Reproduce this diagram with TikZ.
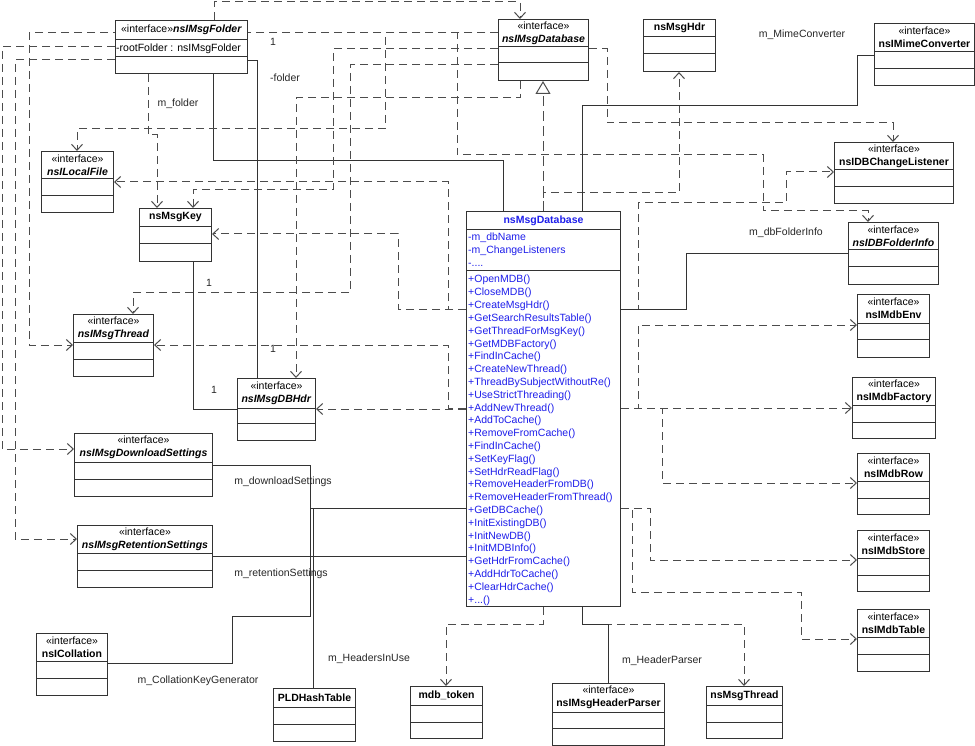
\documentclass[tikz,border=0pt]{standalone}
\usepackage{fontspec}
\setmainfont{Liberation Sans}
\usepackage{tikz}
\usetikzlibrary{arrows.meta}
\usetikzlibrary{backgrounds}

\definecolor{dbblue}{RGB}{30,30,235}

% class box: name, x, y, width, height, first separator, second separator, header
\newcommand{\umlclass}[8]{%
  \node[umlrect,anchor=north west,minimum width=#4pt,minimum height=#5pt] (#1) at (#2,#3) {};
  \draw[umlsep] ([yshift=-#6pt]#1.north west) -- ([yshift=-#6pt]#1.north east);
  \draw[umlsep] ([yshift=-#7pt]#1.north west) -- ([yshift=-#7pt]#1.north east);
  \node[umltext] (#1-head) at ([yshift=-#6pt/2]#1.north) {#8};
}

\begin{document}
\begin{tikzpicture}
    [
    x=1pt,y=-1pt,
    umlrect/.style={draw=black!80,fill=white,line width=1pt,inner sep=0pt},
    umlsep/.style={draw=black!80,line width=1pt},
    umltext/.style={inner sep=0pt,align=center,font=\fontsize{10.5}{12.8}\selectfont},
    member/.style={inner sep=0pt,anchor=base west,text=dbblue,font=\fontsize{10.5}{12.8}\selectfont},
    lbl/.style={inner sep=0pt,text=black!85,font=\fontsize{10.5}{12.8}\selectfont},
    dep/.style={draw=black!70,line width=1pt,dash pattern=on 8pt off 5pt,-{Straight Barb[length=6pt,width=11pt]}},
    assoc/.style={draw=black!80,line width=0.8pt},
    realize/.style={draw=black!70,line width=1pt,dash pattern=on 10pt off 5pt,-{Triangle[open,length=13pt,width=15pt]}},
    ]
    \useasboundingbox (0,0) rectangle (975,746);

    % classes
    \umlclass{folder}{115}{20}{132}{53}{20}{37}{«interface»\textbf{\textit{nsIMsgFolder}}}
    \node[umltext,anchor=west] (folder-attr) at ([xshift=1pt,yshift=-28.5pt]folder.north west) {-rootFolder : nsIMsgFolder};
    \umlclass{idb}{498}{19}{90}{61}{28}{44}{«interface»\\\textbf{\textit{nsIMsgDatabase}}}
    \umlclass{hdr}{643}{19}{72}{52}{18}{35}{\textbf{nsMsgHdr}}
    \umlclass{mime}{874}{23}{100}{62}{29}{46}{«interface»\\\textbf{nsIMimeConverter}}
    \umlclass{listener}{834}{142}{119}{61}{28}{45}{«interface»\\\textbf{nsIDBChangeListener}}
    \umlclass{folderinfo}{848}{222}{90}{62}{28}{45}{«interface»\\\textbf{\textit{nsIDBFolderInfo}}}
    \umlclass{env}{857}{294}{72}{63}{29}{45}{«interface»\\\textbf{nsIMdbEnv}}
    \umlclass{factory}{852}{377}{83}{61}{28}{45}{«interface»\\\textbf{nsIMdbFactory}}
    \umlclass{row}{857}{453}{72}{61}{28}{45}{«interface»\\\textbf{nsIMdbRow}}
    \umlclass{store}{857}{530}{72}{61}{28}{45}{«interface»\\\textbf{nsIMdbStore}}
    \umlclass{table}{857}{609}{72}{62}{28}{45}{«interface»\\\textbf{nsIMdbTable}}
    \umlclass{thread}{706}{686}{76}{52}{19}{36}{\textbf{nsMsgThread}}
    \umlclass{parser}{552}{683}{112}{62}{29}{45}{«interface»\\\textbf{nsIMsgHeaderParser}}
    \umlclass{token}{410}{686}{72}{52}{19}{36}{\textbf{mdb\_token}}
    \umlclass{hash}{273}{688}{82}{53}{19}{36}{\textbf{PLDHashTable}}
    \umlclass{collation}{36}{633}{71}{62}{28}{45}{«interface»\\\textbf{nsICollation}}
    \umlclass{retention}{77}{525}{135}{62}{28}{45}{«interface»\\\textbf{\textit{nsIMsgRetentionSettings}}}
    \umlclass{download}{74}{433}{138}{63}{29}{46}{«interface»\\\textbf{\textit{nsIMsgDownloadSettings}}}
    \umlclass{dbhdr}{237}{378}{78}{62}{30}{45}{«interface»\\\textbf{\textit{nsIMsgDBHdr}}}
    \umlclass{ithread}{73}{314}{80}{62}{28}{45}{«interface»\\\textbf{\textit{nsIMsgThread}}}
    \umlclass{key}{139}{208}{72}{53}{19}{36}{\textbf{nsMsgKey}}
    \umlclass{localfile}{41}{151}{72}{61}{28}{45}{«interface»\\\textbf{\textit{nsILocalFile}}}
    \umlclass{db}{466}{211}{154}{395}{19}{60}{\textcolor{dbblue}{\textbf{nsMsgDatabase}}}

    % members of nsMsgDatabase
    \node[member] (at0) at (468,241) {-m\_dbName};
    \node[member] (at1) at (468,254) {-m\_ChangeListeners};
    \node[member] (at2) at (468,267) {-....};
    \foreach \m [count=\i from 0] in {OpenMDB,CloseMDB,CreateMsgHdr,GetSearchResultsTable,
        GetThreadForMsgKey,GetMDBFactory,FindInCache,CreateNewThread,ThreadBySubjectWithoutRe,
        UseStrictThreading,AddNewThread,AddToCache,RemoveFromCache,FindInCache,SetKeyFlag,
        SetHdrReadFlag,RemoveHeaderFromDB,RemoveHeaderFromThread,GetDBCache,InitExistingDB,
        InitNewDB,InitMDBInfo,GetHdrFromCache,AddHdrToCache,ClearHdrCache}
      \node[member] (op\i) at (468,{283+12.8*\i}) {+\m()};
    \node[member] (op25) at (468,603) {+...()};

    % labels
    \node[lbl] (one-a) at (273,42) {1};
    \node[lbl] (lfolder) at (285,78) {-folder};
    \node[lbl] (lmfolder) at (178,104) {m\_folder};
    \node[lbl] (lmime) at (802,35) {m\_MimeConverter};
    \node[lbl] (linfo) at (786,233) {m\_dbFolderInfo};
    \node[lbl] (one-b) at (209,283) {1};
    \node[lbl] (one-c) at (273,349) {1};
    \node[lbl] (one-d) at (214,390) {1};
    \node[lbl] (ldown) at (283,482) {m\_downloadSettings};
    \node[lbl] (lret) at (281,574) {m\_retentionSettings};
    \node[lbl] (lcoll) at (198,681) {m\_CollationKeyGenerator};
    \node[lbl] (lhash) at (369,659) {m\_HeadersInUse};
    \node[lbl] (lparser) at (662,661) {m\_HeaderParser};

    \begin{scope}[on background layer]
    % nsIMsgFolder
    \draw [dep] (folder.north -| 214,0) -- (214,2) -| (idb.north -| 520,0);
    \draw [dep] (folder.west |- 0,47) -| (2,449) -- (download.west |- 0,449);
    \draw [dep] (folder.west |- 0,60) -| (15,539) -- (retention.west |- 0,539);
    \draw [dep] (folder.south -| 148,0) -- (148,135) -| (key.north -| 157,0);
    \draw [assoc] (folder.south -| 213,0) |- (503,160) -- (db.north -| 503,0);
    \draw [assoc] (folder.east |- 0,60) -| (dbhdr.north -| 257,0);
    % nsIMsgDatabase
    \draw [dep] (idb.west |- 0,33) -| (29,345) -- (ithread.west |- 0,345);
    \draw [dep] (idb.west |- 0,33) -| (457,155) -| (763,211) -| (folderinfo.north -| 868,0);
    \draw [dep] (idb.west |- 0,33) -| (385,129) -| (localfile.north -| 77,0);
    \draw [dep] (idb.west |- 0,49) -| (333,190) -| (key.north -| 193,0);
    \draw [dep] (idb.west |- 0,65) -| (350,293) -| (ithread.north -| 133,0);
    \draw [dep] (idb.south -| 520,0) |- (296,98) -- (dbhdr.north -| 296,0);
    \draw [dep] (idb.east |- 0,49) -| (607,123) -| (listener.north -| 893,0);
    % nsMsgKey
    \draw [assoc] (key.south -| 193,0) |- (dbhdr.west |- 0,409);
    % nsMsgDatabase
    \draw [realize] (db.north -| 543,0) -- (idb.south -| 543,0);
    \draw [dep] (db.north -| 543,0) |- (679,193) -- (hdr.south -| 679,0);
    \draw [assoc] (db.north -| 582,0) |- (857,105) |- (mime.west |- 0,55);
    \draw [dep] (db.west |- 0,309) -| (448,182) -- (localfile.east |- 0,182);
    \draw [dep] (db.west |- 0,309) -| (398,234) -- (key.east |- 0,234);
    \draw [dep] (db.west |- 0,408) -| (448,345) -- (ithread.east |- 0,345);
    \draw [dep] (db.west |- 0,409) -- (dbhdr.east |- 0,409);
    \draw [dep] (db.east |- 0,309) -| (638,203) -| (786,172) -- (listener.west |- 0,172);
    \draw [assoc] (db.east |- 0,309) -| (686,253) -- (folderinfo.west |- 0,253);
    \draw [dep] (db.east |- 0,408) -- (factory.west |- 0,408);
    \draw [dep] (db.east |- 0,408) -| (638,325) -- (env.west |- 0,325);
    \draw [dep] (db.east |- 0,408) -| (662,483) -- (row.west |- 0,483);
    \draw [dep] (db.east |- 0,508) -| (650,560) -- (store.west |- 0,560);
    \draw [dep] (db.east |- 0,508) -| (632,592) -| (801,639) -- (table.west |- 0,639);
    \draw [dep] (db.south -| 543,0) |- (446,624) -- (token.north -| 446,0);
    \draw [dep] (db.south -| 582,0) |- (744,624) -- (thread.north -| 744,0);
    \draw [assoc] (db.south -| 582,0) |- (608,624) -- (parser.north -| 608,0);
    \draw [assoc] (db.west |- 0,508) -| (hash.north -| 313,0);
    % settings and collation
    \draw [assoc] (download.east |- 0,465) -| (310,508) -- (db.west |- 0,508);
    \draw [assoc] (retention.east |- 0,556) -- (db.west |- 0,556);
    \draw [assoc] (collation.east |- 0,663) -| (232,616) -| (310,508) -- (db.west |- 0,508);
    \end{scope}
  \end{tikzpicture}
\end{document}
